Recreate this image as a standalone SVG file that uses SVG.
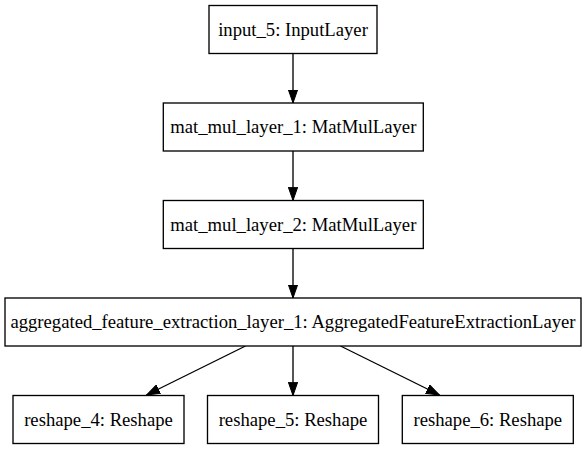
<svg xmlns="http://www.w3.org/2000/svg" width="587" height="449" viewBox="0 0 587 449">
<style>
.node rect{fill:#fff;stroke:#000;stroke-width:1.33}
.node text{font-family:"Liberation Serif","Tinos","Times New Roman","DejaVu Serif",serif;font-size:18.67px;fill:#000;text-anchor:middle}
.edge{stroke:#000;stroke-width:1.33;fill:none;marker-end:url(#ah)}
</style>
<defs>
<marker id="ah" markerUnits="userSpaceOnUse" markerWidth="14" markerHeight="10" viewBox="0 -5 14 10" refX="13.33" refY="0" orient="auto">
<path d="M0,-4.67 L13.33,0 L0,4.67 z" fill="#000" stroke="#000" stroke-width="1"/>
</marker>
</defs>
<rect width="587" height="449" fill="#fff"/>
<g id="connectors">
<line class="edge" x1="293" y1="53.5" x2="293" y2="103"/>
<line class="edge" x1="293" y1="151" x2="293" y2="200.5"/>
<line class="edge" x1="293" y1="248.5" x2="293" y2="298"/>
<line class="edge" x1="245.5" y1="346" x2="146.5" y2="395"/>
<line class="edge" x1="293" y1="346" x2="293" y2="395.5"/>
<line class="edge" x1="340.5" y1="346" x2="439.5" y2="395"/>
</g>
<g id="input_5" class="node">
<rect x="209" y="5.5" width="168" height="48"/>
<text x="293" y="35.5">input_5: InputLayer</text>
</g>
<g id="mat_mul_layer_1" class="node">
<rect x="163.3" y="103" width="260" height="48"/>
<text x="293.3" y="133">mat_mul_layer_1: MatMulLayer</text>
</g>
<g id="mat_mul_layer_2" class="node">
<rect x="163.3" y="200.5" width="260" height="48"/>
<text x="293.3" y="230.5">mat_mul_layer_2: MatMulLayer</text>
</g>
<g id="aggregated_feature_extraction_layer_1" class="node">
<rect x="5" y="298" width="576" height="48"/>
<text x="293" y="328">aggregated_feature_extraction_layer_1: AggregatedFeatureExtractionLayer</text>
</g>
<g id="reshape_4" class="node">
<rect x="13" y="395.5" width="171" height="48"/>
<text x="98.5" y="425.5">reshape_4: Reshape</text>
</g>
<g id="reshape_5" class="node">
<rect x="207.5" y="395.5" width="171" height="48"/>
<text x="293" y="425.5">reshape_5: Reshape</text>
</g>
<g id="reshape_6" class="node">
<rect x="402.3" y="395.5" width="171" height="48"/>
<text x="487.8" y="425.5">reshape_6: Reshape</text>
</g>
</svg>
